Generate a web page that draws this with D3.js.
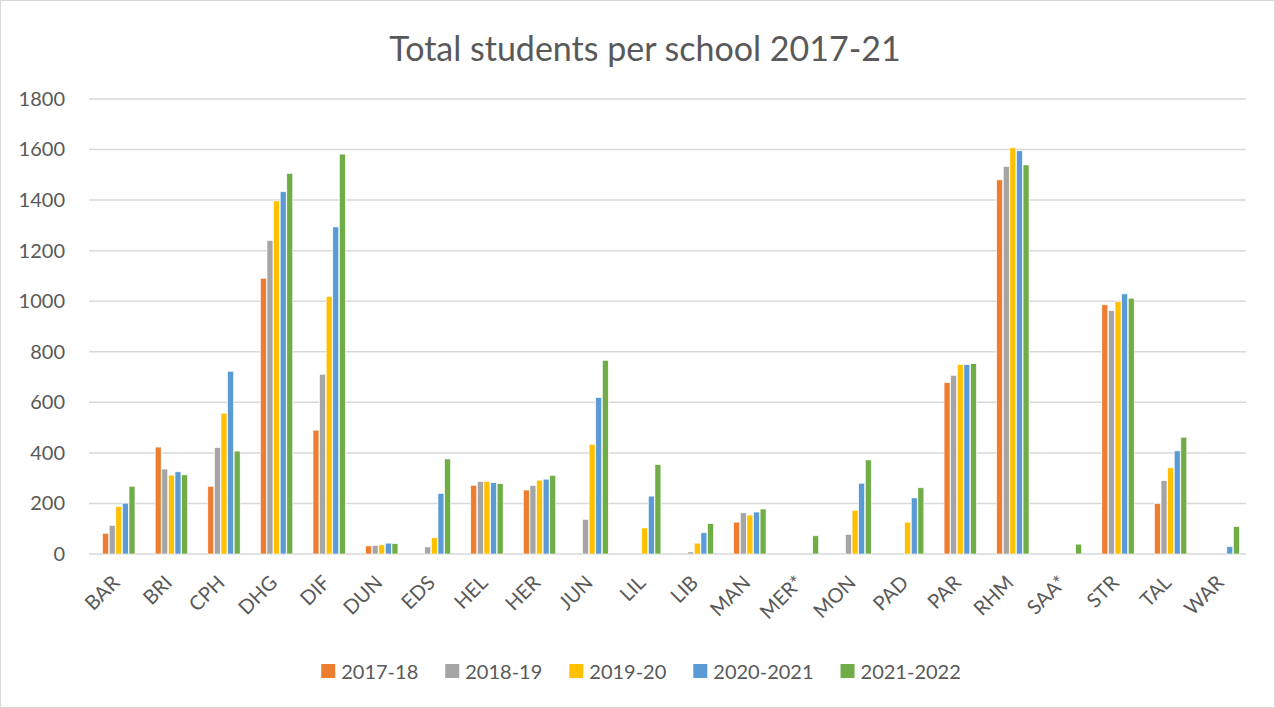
<!DOCTYPE html>
<html>
<head>
<meta charset="utf-8">
<script src="https://cdn.jsdelivr.net/npm/d3@7"></script>
<style>
  body { margin: 0; background: #fff; }
  text { font-family: Lato, "Open Sans", sans-serif; fill: #595959; }
</style>
</head>
<body>
<script>
// school codes on the x axis
var schools = ["BAR", "BRI", "CPH", "DHG", "DIF", "DUN", "EDS", "HEL", "HER", "JUN", "LIL",
               "LIB", "MAN", "MER*", "MON", "PAD", "PAR", "RHM", "SAA*", "STR", "TAL", "WAR"];
var years = ["2017-18", "2018-19", "2019-20", "2020-2021", "2021-2022"];
// one list per year, null = no bar
var y2017 = [82, 423, 268, 1091, 490, 32, null, 272, 253, null, null, null, 126, null, null, null, 678, 1480, null, 986, 199, null];
var y2018 = [113, 336, 421, 1240, 711, 33, 28, 286, 271, 137, null, 8, 163, null, 78, null, 707, 1533, null, 963, 290, null];
var y2019 = [187, 312, 557, 1397, 1019, 36, 64, 287, 292, 434, 103, 43, 154, null, 173, 126, 749, 1607, null, 998, 341, null];
var y2020 = [201, 325, 723, 1433, 1294, 43, 240, 282, 296, 619, 229, 84, 166, null, 280, 222, 749, 1595, null, 1029, 408, 29];
var y2021 = [268, 313, 407, 1506, 1582, 41, 376, 278, 311, 766, 354, 120, 178, 72, 372, 262, 753, 1539, 39, 1012, 462, 108];
var yTicks = [0, 200, 400, 600, 800, 1000, 1200, 1400, 1600, 1800];
var colors = ["#ED7D31", "#A5A5A5", "#FFC000", "#5B9BD5", "#70AD47"];

window.onload = function(){
  var series = [y2017, y2018, y2019, y2020, y2021];

  var svg = d3.select("body").append("svg")
    .attr("width", 1275)
    .attr("height", 708);

  // outer chart border
  svg.append("rect")
    .attr("x", 0.5).attr("y", 0.5)
    .attr("width", 1274).attr("height", 707)
    .style("fill", "#fff")
    .style("stroke", "#d9d9d9");

  var x0 = d3.scaleBand()
    .domain(schools)
    .range([92.5, 1249.5])
    .paddingInner(0.36)
    .paddingOuter(0.18);

  var x1 = d3.scaleBand()
    .domain(d3.range(years.length))
    .range([0, x0.bandwidth()])
    .padding(0.1);

  var y = d3.scaleLinear()
    .domain([0, 1800])
    .range([554, 99]);

  // gridlines
  svg.append("g").selectAll("line")
    .data(yTicks)
    .enter()
    .append("line")
    .attr("x1", 89).attr("x2", 1246)
    .attr("y1", function(d){ return y(d); })
    .attr("y2", function(d){ return y(d); })
    .style("stroke", "#d9d9d9")
    .style("stroke-width", 1.5);

  // y axis labels
  var yAxis = d3.axisLeft(y).tickValues(yTicks).tickFormat(d3.format("d")).tickSize(0).tickPadding(0);
  var ya = svg.append("g")
    .attr("transform", "translate(65,0)")
    .call(yAxis);
  ya.select(".domain").remove();
  ya.selectAll("text")
    .style("font-size", "20px")
    .style("fill", "#595959")
    .style("font-family", "Lato, 'Open Sans', sans-serif");

  // bars
  series.forEach(function(vals, s){
    svg.append("g").selectAll("rect")
      .data(vals.map(function(v, i){ return {school: schools[i], value: v}; })
                .filter(function(d){ return d.value != null; }))
      .enter()
      .append("rect")
      .attr("x", function(d){ return x0(d.school) + x1(s); })
      .attr("y", function(d){ return y(d.value); })
      .attr("width", x1.bandwidth())
      .attr("height", function(d){ return y(0) - y(d.value); })
      .style("fill", colors[s])
      .style("stroke", "#fff")
      .style("stroke-width", 0.6);
  });

  // x axis labels, rotated
  var xAxis = d3.axisBottom(x0).tickSize(0).tickPadding(0);
  var xa = svg.append("g")
    .attr("transform", "translate(0,566)")
    .call(xAxis);
  xa.select(".domain").remove();
  xa.selectAll("text")
    .attr("text-anchor", "end")
    .attr("x", 0).attr("y", 0).attr("dy", 0)
    .attr("transform", "translate(2,18) rotate(-45)")
    .style("font-size", "20px")
    .style("fill", "#595959")
    .style("font-family", "Lato, 'Open Sans', sans-serif");

  // title
  svg.append("text")
    .attr("x", 645)
    .attr("y", 61)
    .attr("text-anchor", "middle")
    .style("font-size", "34px")
    .text("Total students per school 2017-21");

  // legend
  var legend = svg.append("g");
  var lx = 0;
  years.forEach(function(yr, i){
    var item = legend.append("g").attr("transform", "translate(" + lx + ",0)");
    item.append("rect")
      .attr("x", 0).attr("y", -7)
      .attr("width", 14).attr("height", 14)
      .style("fill", colors[i]);
    var t = item.append("text")
      .attr("x", 20).attr("y", 7.5)
      .style("font-size", "20px")
      .text(yr);
    lx += 20 + t.node().getComputedTextLength() + 27;
  });
  var lw = lx - 27;
  legend.attr("transform", "translate(" + (641 - lw / 2) + ",671)");
};
</script>
</body>
</html>
